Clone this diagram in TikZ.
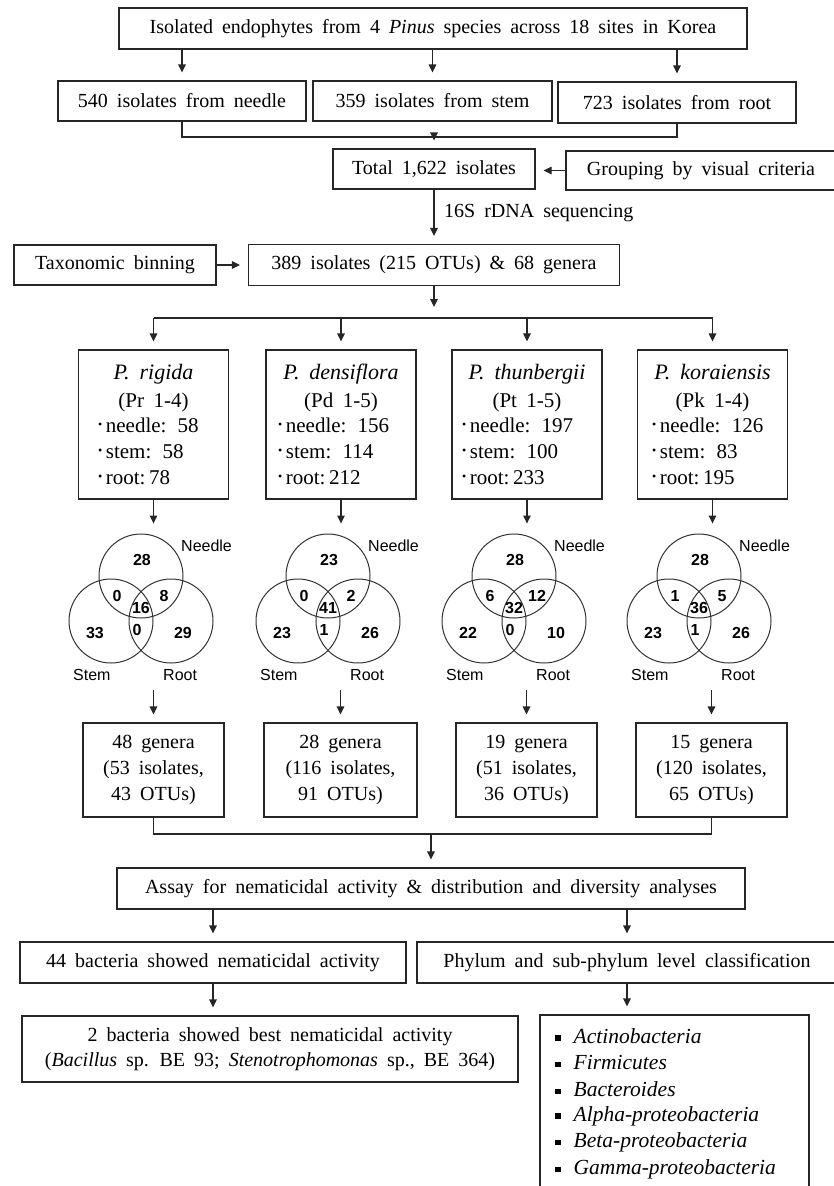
\documentclass[tikz,border=0pt]{standalone}
\usepackage{fontspec}
\setmainfont[WordSpace=1.8]{Liberation Serif}
\newfontfamily\vennfont{Liberation Sans}
\usetikzlibrary{arrows.meta}
\begin{document}
\begin{tikzpicture}[x=1pt,y=-1pt,
  box/.style={draw=black!85, line width=1.1pt, inner sep=0pt, align=center, font=\fontsize{20}{26}\selectfont},
  arr/.style={draw=black!85, line width=1.1pt, -{Triangle[length=8pt,width=7.5pt]}, shorten >=8pt},
  ln/.style={draw=black!85, line width=1.1pt},
  txt/.style={inner sep=0pt, font=\fontsize{20}{26}\selectfont},
  sptitle/.style={inner sep=0pt, anchor=base, font=\fontsize{22}{26}\selectfont\itshape},
  spcode/.style={inner sep=0pt, anchor=base, font=\fontsize{21}{26}\selectfont},
  spitem/.style={inner sep=0pt, anchor=base west, font=\fontsize{21}{26}\selectfont},
  vc/.style={draw=black!80, line width=1pt},
  vn/.style={inner sep=0pt, font=\vennfont\bfseries\fontsize{16}{18}\selectfont},
  vl/.style={inner sep=0pt, anchor=west, font=\vennfont\fontsize{16}{18}\selectfont},
  listitem/.style={inner sep=0pt, anchor=west, font=\fontsize{21.5}{26}\selectfont}
]
\useasboundingbox (0,0) rectangle (834,1186);
\newcommand{\bul}{\raisebox{4pt}{\fontsize{12}{12}\selectfont\textbullet}\,}

% top part
\node[box, minimum width=628pt, minimum height=41pt] (top) at (433,28.5) {Isolated endophytes from 4 \textit{Pinus} species across 18 sites in Korea};
\node[box, minimum width=248pt, minimum height=40pt] (needle) at (182,101) {540 isolates from needle};
\node[box, minimum width=239pt, minimum height=40pt] (stem) at (432.5,101) {359 isolates from stem};
\node[box, minimum width=238pt, minimum height=41pt] (root) at (677,102.5) {723 isolates from root};
\draw[arr] (top.south -| needle.north) -- (needle.north);
\draw[arr] (top.south -| stem.north) -- (stem.north);
\draw[arr] (top.south -| root.north) -- (root.north);
\coordinate (j1) at (434,137);
\draw[ln] (needle.south) |- (j1) -| (root.south);
\node[box, minimum width=202pt, minimum height=40pt] (total) at (434,169) {Total 1,622 isolates};
\draw[arr] (j1) -- (total.north);
\node[box, minimum width=270pt, minimum height=39pt] (group) at (701,170.5) {Grouping by visual criteria};
\draw[arr] (group.west) -- (group.west -| total.east);
\node[txt, anchor=west] (seq) at (444,213) {16S rDNA sequencing};
\node[box, minimum width=371pt, minimum height=41pt] (b389) at (434,265) {389 isolates (215 OTUs) \& 68 genera};
\draw[arr] (total.south) -- (b389.north);
\node[box, minimum width=202pt, minimum height=40pt] (tax) at (115,265) {Taxonomic binning};
\draw[arr] (tax.east) -- (b389.west);

% species boxes
\foreach \n/\cx/\bx/\nm/\cd/\a/\b/\c in {
  1/153.5/98/P.\ rigida/Pr 1-4/58/58/78,
  2/341/278/P.\ densiflora/Pd 1-5/156/114/212,
  3/527/462/P.\ thunbergii/Pt 1-5/197/100/233,
  4/712.5/652/P.\ koraiensis/Pk 1-4/126/83/195}{
  \node[draw=black!85, line width=1.1pt, minimum width=150pt, minimum height=149pt, inner sep=0pt] (sp\n) at (\cx,424.5) {};
  \node[sptitle] (spt\n) at (\cx,379) {\nm};
  \node[spcode] (spc\n) at (\cx,407) {(\cd)};
  \node[spitem] (spn\n) at (\bx,432) {\bul needle: \a};
  \node[spitem] (sps\n) at (\bx,458.5) {\bul stem: \b};
  \node[spitem] (spr\n) at (\bx,484.5) {\bul root:\,\c};
}
\coordinate (s0) at (434,318);
\draw[arr, shorten >=11pt] (b389.south) -- (s0);
\draw[ln] (sp1.north |- s0) -- (sp4.north |- s0);
\foreach \n in {1,2,3,4}{
  \draw[arr] (sp\n.north |- s0) -- (sp\n.north);
}

% genera boxes
\node[box, minimum width=141pt, minimum height=94pt] (g1) at (153.5,770) {48 genera\\(53 isolates,\\43 OTUs)};
\node[box, minimum width=153pt, minimum height=94pt] (g2) at (340.5,770) {28 genera\\(116 isolates,\\91 OTUs)};
\node[box, minimum width=141pt, minimum height=94pt] (g3) at (526.5,770) {19 genera\\(51 isolates,\\36 OTUs)};
\node[box, minimum width=151pt, minimum height=94pt] (g4) at (711.5,770) {15 genera\\(120 isolates,\\65 OTUs)};

% species box -> venn arrows and venn diagrams
\foreach \n/\c/\A/\B/\C/\D/\E/\F/\G in {
  1/141/28/0/8/16/33/0/29,
  2/328/23/0/2/41/23/1/26,
  3/514/28/6/12/32/22/0/10,
  4/699/28/1/5/36/23/1/26}{
  \draw[arr, shorten >=0pt] (sp\n.south) -- ++(0,24);
  \draw[vc] (\c,576) circle[radius=42pt];
  \draw[vc] (\c-30,621) circle[radius=42pt];
  \draw[vc] (\c+30,621) circle[radius=42pt];
  \node[vn] (vA\n) at (\c+1,560) {\A};
  \node[vn] (vB\n) at (\c-24,596) {\B};
  \node[vn] (vC\n) at (\c+23,596) {\C};
  \node[vn] (vD\n) at (\c,608) {\D};
  \node[vn] (vE\n) at (\c-46,633) {\E};
  \node[vn] (vF\n) at (\c-4,630) {\F};
  \node[vn] (vG\n) at (\c+42,633) {\G};
  \node[vl] (ln\n) at (\c+40,546) {Needle};
  \node[vl] (ls\n) at (\c-68,675) {Stem};
  \node[vl] (lr\n) at (\c+22,675) {Root};
  \coordinate (va\n) at (g\n.north |- 0,690);
  \draw[arr] (va\n) -- (g\n.north);
}

% lower part
\coordinate (j2) at (431,834);
\draw[ln] (g1.south) |- (j2) -| (g4.south);
\node[box, minimum width=628pt, minimum height=41pt] (assay) at (431,888.5) {Assay for nematicidal activity \& distribution and diversity analyses};
\draw[arr] (j2) -- (assay.north);
\node[box, minimum width=386pt, minimum height=41pt] (b44) at (213,962.5) {44 bacteria showed nematicidal activity};
\node[box, minimum width=420pt, minimum height=41pt] (ph) at (627,962.5) {Phylum and sub-phylum level classification};
\draw[arr] (assay.south -| b44.north) -- (b44.north);
\draw[arr] (assay.south -| ph.north) -- (ph.north);
\node[box, minimum width=496pt, minimum height=66pt, font=\fontsize{20}{25}\selectfont] (b2) at (270,1049) {2 bacteria showed best nematicidal activity\\(\textit{Bacillus} sp. BE 93; \textit{Stenotrophomonas} sp., BE 364)};
\draw[arr] (b44.south) -- (b44.south |- b2.north);
\node[draw=black!85, line width=1.1pt, minimum width=269pt, minimum height=175pt, inner sep=0pt] (list) at (674.5,1102.5) {};
\draw[arr] (ph.south) -- (ph.south |- list.north);
\foreach \i/\t in {0/Actinobacteria,1/Firmicutes,2/Bacteroides,3/Alpha-proteobacteria,4/Beta-proteobacteria,5/Gamma-proteobacteria}{
  \node[listitem] (it\i) at (555,1036+26.7*\i) {\raisebox{2.5pt}{\rule{5.5pt}{5.5pt}}\hspace{13pt}\textit{\t}};
}
\end{tikzpicture}
\end{document}
